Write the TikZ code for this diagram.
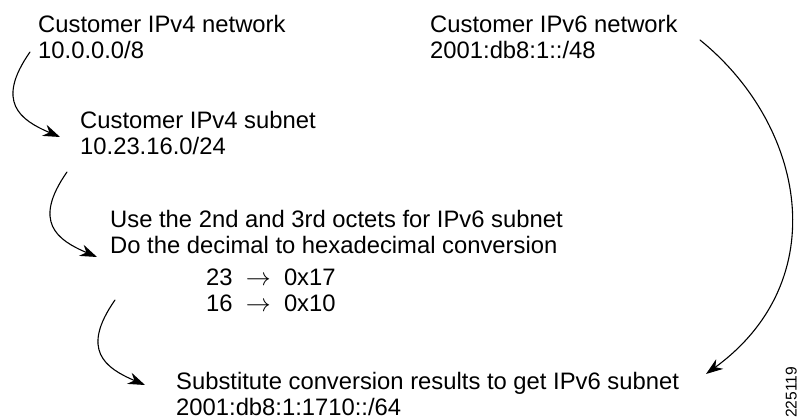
\documentclass[tikz,border=0pt]{standalone}
\usepackage{fontspec}
\setmainfont{Liberation Sans}
\usepackage{tikz}
\usetikzlibrary{arrows.meta,positioning}

\tikzset{
  txt/.style={anchor=north west, align=left, inner sep=0pt, text=black,
    font=\fontsize{23.8}{26}\selectfont},
  flow/.style={-{Stealth[length=17pt,width=12pt]}, line width=1.1pt, black},
  tag/.style={rotate=90, anchor=south west, inner sep=0pt,
    font=\fontsize{15.6}{17}\selectfont}
}

\begin{document}
\begin{tikzpicture}[x=1pt,y=1pt,line cap=round,line join=round]
\useasboundingbox (0,0) rectangle (800,420);
% text blocks
\node[txt] (v4net) at (38,405) {Customer IPv4 network\\10.0.0.0/8};
\node[txt] (v6net) at (430,405) {Customer IPv6 network\\2001:db8:1::/48};
\node[txt] (v4sub) at (80,308.5) {Customer IPv4 subnet\\10.23.16.0/24};
\node[txt] (octets) at (110,209.5) {Use the 2nd and 3rd octets for IPv6 subnet\\Do the decimal to hexadecimal conversion};
\node[txt] (hex) at (206,151.5) {23~~$\rightarrow$~~0x17\\16~~$\rightarrow$~~0x10};
\node[txt] (v6sub) at (176,48) {Substitute conversion results to get IPv6 subnet\\2001:db8:1:1710::/64};
\node[tag] (figno) at (797,2) {225119};
% curved arrows
\coordinate (s1) at (30,368); \coordinate (e1) at (60,283);
\coordinate (s2) at (67,248); \coordinate (e2) at (97,163);
\coordinate (s3) at (115,120); \coordinate (e3) at (145,35);
\coordinate (s4) at (700,380); \coordinate (e4) at (706,46);
\draw[flow] (s1) .. controls (-5,318) and (20,300) .. (e1);
\draw[flow] (s2) .. controls (32,198) and (57,180) .. (e2);
\draw[flow] (s3) .. controls (80,70) and (105,52) .. (e3);
\draw[flow] (s4) .. controls (805,295) and (835,140) .. (e4);
\end{tikzpicture}
\end{document}
